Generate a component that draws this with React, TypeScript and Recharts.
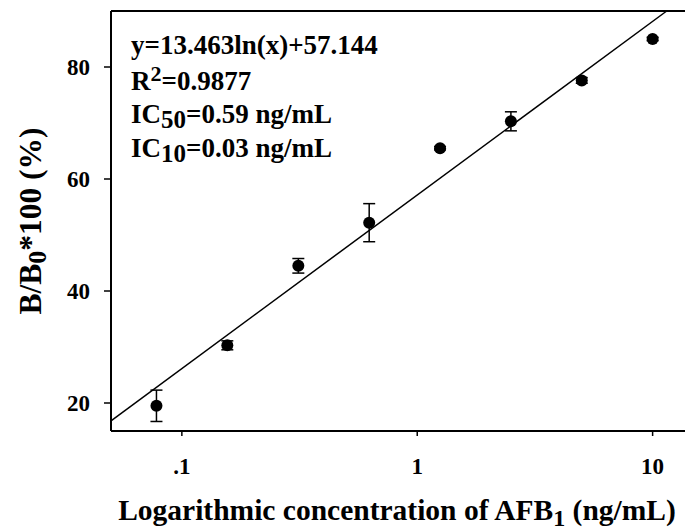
import { ScatterChart, Scatter, XAxis, YAxis, ErrorBar, ReferenceLine, Label } from "recharts";

const CONC = [0.078, 0.156, 0.3125, 0.625, 1.25, 2.5, 5, 10];
const RATIO = [19.5, 30.3, 44.5, 52.2, 65.5, 70.3, 77.6, 85.0];
const ERR = [2.8, 0.8, 1.3, 3.4, 0.3, 1.7, 0.5, 0.3];

const X_TICKS = [0.1, 1, 10];
const X_TICK_LABELS = [".1", "1", "10"];
const Y_TICKS = [20, 40, 60, 80];

// fitted curve y = a ln(x) + b, as printed on the chart
const FIT_SLOPE = 13.463;
const FIT_INTERCEPT = 57.144;

const X_DOMAIN = [0.05, 14.7];
const Y_DOMAIN = [15, 90];

const FONT = "'Liberation Serif', 'Times New Roman', serif";

const data = CONC.map((c, i) => ({ conc: c, ratio: RATIO[i], err: ERR[i] }));

const fitY = (x: number) => FIT_SLOPE * Math.log(x) + FIT_INTERCEPT;
const fitStart = X_DOMAIN[0];
const fitEnd = Math.exp((Y_DOMAIN[1] - FIT_INTERCEPT) / FIT_SLOPE);

const textStyle = { fontFamily: FONT, fontWeight: "bold" as const, fill: "#000" };

export default function App() {
  return (
    <div
      style={{
        position: "absolute",
        left: 0,
        top: 0,
        width: 685,
        height: 531,
        overflow: "hidden",
        background: "#fff",
      }}
    >
      <ScatterChart width={700} height={531} margin={{ top: 11, right: 8, bottom: 0, left: 0 }}>
        <XAxis
          type="number"
          dataKey="conc"
          scale="log"
          domain={X_DOMAIN}
          allowDataOverflow
          ticks={X_TICKS}
          tickFormatter={(v: number) => X_TICK_LABELS[X_TICKS.indexOf(v)] ?? String(v)}
          height={100}
          stroke="#000"
          axisLine={{ stroke: "#000", strokeWidth: 2 }}
          tickLine={{ stroke: "#000", strokeWidth: 1.5 }}
          tickSize={5}
          tickMargin={22}
          tick={{ ...textStyle, fontSize: 23 }}
        >
          <Label
            content={() => (
              <text x={397} y={520} textAnchor="middle" {...textStyle} fontSize={29.5}>
                Logarithmic concentration of AFB
                <tspan dy={6} fontSize={24}>1</tspan>
                <tspan dy={-6}> (ng/mL)</tspan>
              </text>
            )}
          />
        </XAxis>
        <YAxis
          type="number"
          dataKey="ratio"
          domain={Y_DOMAIN}
          allowDataOverflow
          ticks={Y_TICKS}
          width={111}
          axisLine={{ stroke: "#000", strokeWidth: 2 }}
          tickLine={{ stroke: "#000", strokeWidth: 1.5 }}
          tickSize={7}
          tickMargin={14}
          tick={{ ...textStyle, fontSize: 23 }}
        >
          <Label
            content={() => (
              <g transform="translate(30 221) rotate(-90)">
                <text x={0} y={11} textAnchor="middle" {...textStyle} fontSize={31.5}>
                  B/B
                  <tspan dy={5} fontSize={26}>0</tspan>
                  <tspan dy={-5}>*100 (%)</tspan>
                </text>
              </g>
            )}
          />
        </YAxis>
        <ReferenceLine y={Y_DOMAIN[1]} stroke="#000" strokeWidth={2} ifOverflow="visible" />
        <ReferenceLine
          segment={[
            { x: fitStart, y: fitY(fitStart) },
            { x: fitEnd, y: fitY(fitEnd) },
          ]}
          stroke="#000"
          strokeWidth={1.5}
          ifOverflow="visible"
        />
        <Scatter
          data={data}
          isAnimationActive={false}
          shape={(p: any) => <circle cx={p.cx} cy={p.cy} r={6} fill="#000" />}
        >
          <ErrorBar dataKey="err" direction="y" width={6} stroke="#000" strokeWidth={1.5} />
        </Scatter>
      </ScatterChart>
      <svg
        width={685}
        height={531}
        style={{ position: "absolute", left: 0, top: 0, pointerEvents: "none" }}
      >
        <g {...textStyle} fontSize={27}>
          <text x={131} y={54}>y=13.463ln(x)+57.144</text>
          <text x={131} y={90}>
            R<tspan dy={-9} fontSize={22}>2</tspan>
            <tspan dy={9}>=0.9877</tspan>
          </text>
          <text x={131} y={123}>
            IC<tspan dy={5} fontSize={25}>50</tspan>
            <tspan dy={-5}>=0.59 ng/mL</tspan>
          </text>
          <text x={131} y={157}>
            IC<tspan dy={5} fontSize={25}>10</tspan>
            <tspan dy={-5}>=0.03 ng/mL</tspan>
          </text>
        </g>
      </svg>
    </div>
  );
}
